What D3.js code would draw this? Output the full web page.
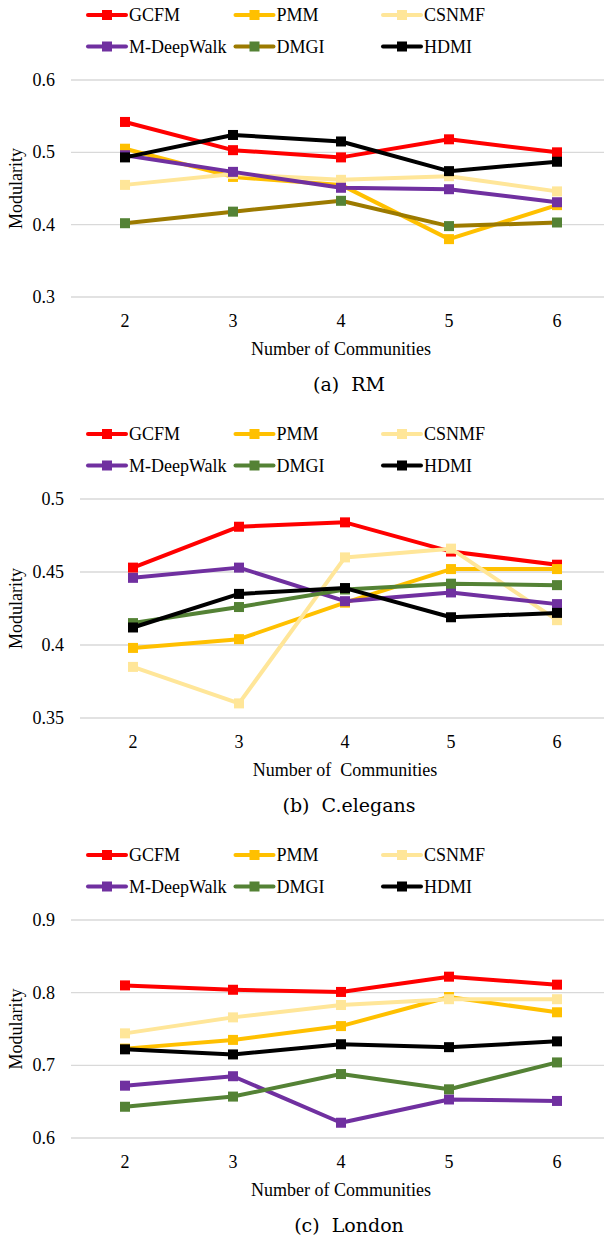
<!DOCTYPE html>
<html lang="en">
<head>
    <meta charset="UTF-8">
    <title>Modularity vs Number of Communities</title>
    <script src="https://d3js.org/d3.v7.min.js"></script>
    <style>
        body {
            margin: 0;
            padding: 0;
            background-color: white;
        }
        svg {
            display: block;
            font-family: 'Liberation Serif', 'Times New Roman', serif;
        }
        .grid-line {
            stroke: #d9d9d9;
            stroke-width: 1.3;
        }
        .tick-label {
            font-size: 18px;
            fill: #000;
        }
        .caption {
            font-family: 'DejaVu Serif', serif;
            font-size: 19px;
            fill: #000;
        }
    </style>
</head>
<body>
    <svg width="604" height="1243"></svg>

    <script>
        const communities = [2, 3, 4, 5, 6];
        const methods = ["GCFM", "PMM", "CSNMF", "M-DeepWalk", "DMGI", "HDMI"];

        // values per method, same order as methods
        const rmValues = [
            [0.542, 0.503, 0.493, 0.518, 0.500],
            [0.505, 0.466, 0.455, 0.380, 0.427],
            [0.455, 0.470, 0.462, 0.467, 0.446],
            [0.496, 0.473, 0.451, 0.449, 0.431],
            [0.402, 0.418, 0.433, 0.398, 0.403],
            [0.493, 0.524, 0.515, 0.474, 0.487]
        ];
        const celegansValues = [
            [0.453, 0.481, 0.484, 0.464, 0.455],
            [0.398, 0.404, 0.429, 0.452, 0.452],
            [0.385, 0.360, 0.460, 0.466, 0.417],
            [0.446, 0.453, 0.430, 0.436, 0.428],
            [0.415, 0.426, 0.438, 0.442, 0.441],
            [0.412, 0.435, 0.439, 0.419, 0.422]
        ];
        const londonValues = [
            [0.810, 0.804, 0.801, 0.822, 0.811],
            [0.723, 0.735, 0.754, 0.794, 0.773],
            [0.744, 0.766, 0.783, 0.791, 0.791],
            [0.672, 0.685, 0.621, 0.653, 0.651],
            [0.643, 0.657, 0.688, 0.667, 0.704],
            [0.722, 0.715, 0.729, 0.725, 0.733]
        ];

        const rmTicks = [0.3, 0.4, 0.5, 0.6];
        const celegansTicks = [0.35, 0.4, 0.45, 0.5];
        const londonTicks = [0.6, 0.7, 0.8, 0.9];

        const lineColors = ["#ff0000", "#ffc000", "#ffe699", "#7030a0", "#548235", "#000000"];
        const markerColors = ["#ff0000", "#ffc000", "#ffe699", "#7030a0", "#548235", "#000000"];

        const svg = d3.select("svg");

        const panels = [
            { values: rmValues, ticks: rmTicks, top: 80, bottom: 297, left: 71, right: 611,
              xTitle: "Number of Communities", caption: "(a)  RM", dmgiLine: "#9c7a00" },
            { values: celegansValues, ticks: celegansTicks, top: 499, bottom: 718, left: 80, right: 610,
              xTitle: "Number of  Communities", caption: "(b)  C.elegans", dmgiLine: "#548235" },
            { values: londonValues, ticks: londonTicks, top: 920, bottom: 1138, left: 71, right: 611,
              xTitle: "Number of Communities", caption: "(c)  London", dmgiLine: "#548235" }
        ];

        function drawPanel(p) {
            const g = svg.append("g");

            const xScale = d3.scalePoint()
                             .domain(communities)
                             .range([p.left, p.right])
                             .padding(0.5);

            const yScale = d3.scaleLinear()
                             .domain(d3.extent(p.ticks))
                             .range([p.bottom, p.top]);

            const colorOf = function(i) { return i === 4 ? p.dmgiLine : lineColors[i]; };

            // Legend (two rows of three)
            const legendG = g.append("g");
            methods.forEach(function(m, i) {
                const col = i % 3;
                const row = Math.floor(i / 3);
                const lx = 88 + col * 147.5;
                const ly = p.top - 65 + row * 31.5;
                legendG.append("line")
                    .attr("x1", lx).attr("x2", lx + 38)
                    .attr("y1", ly).attr("y2", ly)
                    .attr("stroke", colorOf(i))
                    .attr("stroke-width", 4)
                    .attr("stroke-linecap", "round");
                legendG.append("rect")
                    .attr("x", lx + 14).attr("y", ly - 5)
                    .attr("width", 10).attr("height", 10)
                    .attr("fill", markerColors[i]);
                legendG.append("text")
                    .attr("x", lx + 41)
                    .attr("y", ly + 6)
                    .attr("font-size", "18px")
                    .text(m);
            });

            // Gridlines + y labels
            g.selectAll(".grid-line")
                .data(p.ticks)
                .enter()
                .append("line")
                .attr("class", "grid-line")
                .attr("x1", p.left)
                .attr("x2", p.right)
                .attr("y1", function(d) { return yScale(d); })
                .attr("y2", function(d) { return yScale(d); });

            g.selectAll(".y-label")
                .data(p.ticks)
                .enter()
                .append("text")
                .attr("class", "tick-label")
                .attr("x", p.left - 16)
                .attr("y", function(d) { return yScale(d) + 6; })
                .attr("text-anchor", "end")
                .text(function(d) { return String(d); });

            // x labels
            g.selectAll(".x-label")
                .data(communities)
                .enter()
                .append("text")
                .attr("class", "tick-label")
                .attr("x", function(d) { return xScale(d); })
                .attr("y", p.bottom + 30)
                .attr("text-anchor", "middle")
                .text(function(d) { return d; });

            // axis titles
            g.append("text")
                .attr("x", (p.left + p.right) / 2)
                .attr("y", p.bottom + 58)
                .attr("text-anchor", "middle")
                .attr("font-size", "18px")
                .style("white-space", "pre")
                .text(p.xTitle);

            g.append("text")
                .attr("transform", "translate(22," + ((p.top + p.bottom) / 2) + ") rotate(-90)")
                .attr("text-anchor", "middle")
                .attr("font-size", "18px")
                .text("Modularity");

            // series lines and markers
            const line = d3.line()
                           .x(function(d, j) { return xScale(communities[j]); })
                           .y(function(d) { return yScale(d); });

            p.values.forEach(function(vals, i) {
                g.append("path")
                    .attr("d", line(vals))
                    .attr("fill", "none")
                    .attr("stroke", colorOf(i))
                    .attr("stroke-width", 4)
                    .attr("stroke-linejoin", "round");
                g.selectAll(".marker-" + i)
                    .data(vals)
                    .enter()
                    .append("rect")
                    .attr("class", "marker-" + i)
                    .attr("x", function(d, j) { return xScale(communities[j]) - 5; })
                    .attr("y", function(d) { return yScale(d) - 5; })
                    .attr("width", 10)
                    .attr("height", 10)
                    .attr("fill", markerColors[i]);
            });

            // caption
            g.append("text")
                .attr("class", "caption")
                .attr("x", 349)
                .attr("y", p.bottom + 94)
                .attr("text-anchor", "middle")
                .style("white-space", "pre")
                .text(p.caption);
        }

        panels.forEach(drawPanel);
    </script>
</body>
</html>
